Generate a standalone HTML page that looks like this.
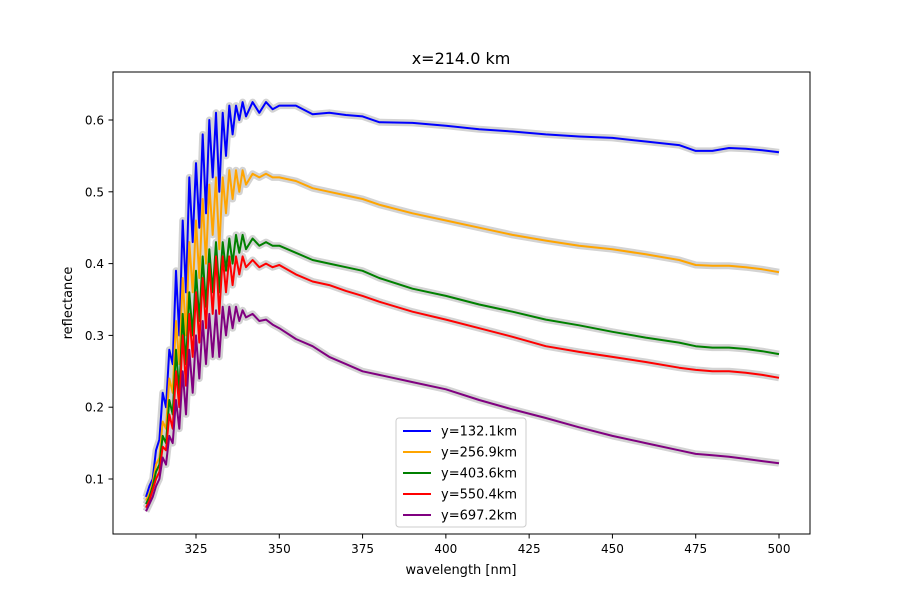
<!DOCTYPE html>
<html><head><meta charset="utf-8"><style>
body{margin:0;background:#fff}
svg text{font-family:"DejaVu Sans","Liberation Sans",sans-serif;fill:#000}
</style></head><body>
<svg id="chart" width="900" height="600">
<rect width="900" height="600" fill="#fff"/>
<text x="461" y="64" font-size="16" text-anchor="middle">x=214.0 km</text>
<g id="bands"></g><g id="lines"></g>
<rect x="113" y="72" width="697" height="462" fill="none" stroke="#000" stroke-width="1"/>
<g id="xticks"></g><g id="yticks"></g>
<text x="461" y="574" font-size="13" text-anchor="middle">wavelength [nm]</text>
<text x="72" y="303" font-size="13" text-anchor="middle" transform="rotate(-90 72 303)">reflectance</text>
<g id="legend"></g>
</svg>
<script>
const wavelengths=[310,311,312,313,314,315,316,317,318,319,320,321,322,323,324,325,326,327,328,329,330,331,332,333,334,335,336,337,338,339,340,342,344,346,348,350,355,360,365,370,375,380,390,400,410,420,430,440,450,460,470,475,480,485,490,495,500];
const blueVals=[0.075,0.09,0.10,0.14,0.155,0.22,0.20,0.28,0.26,0.39,0.30,0.46,0.36,0.52,0.43,0.54,0.45,0.58,0.47,0.60,0.52,0.61,0.50,0.61,0.55,0.62,0.58,0.62,0.60,0.625,0.605,0.625,0.61,0.625,0.615,0.62,0.62,0.608,0.61,0.607,0.605,0.597,0.596,0.592,0.587,0.584,0.58,0.577,0.575,0.57,0.565,0.557,0.557,0.561,0.56,0.558,0.555];
const orangeVals=[0.07,0.08,0.095,0.12,0.13,0.18,0.17,0.24,0.22,0.32,0.26,0.38,0.30,0.43,0.36,0.46,0.38,0.49,0.40,0.51,0.44,0.52,0.42,0.52,0.47,0.53,0.49,0.53,0.50,0.53,0.51,0.525,0.52,0.525,0.52,0.52,0.515,0.505,0.50,0.495,0.49,0.482,0.47,0.46,0.45,0.44,0.432,0.425,0.42,0.413,0.405,0.398,0.397,0.397,0.395,0.392,0.388];
const greenVals=[0.065,0.075,0.09,0.11,0.12,0.16,0.15,0.21,0.19,0.28,0.22,0.33,0.26,0.36,0.30,0.39,0.32,0.41,0.34,0.42,0.36,0.43,0.36,0.43,0.39,0.435,0.40,0.44,0.415,0.44,0.42,0.435,0.425,0.43,0.425,0.425,0.415,0.405,0.40,0.395,0.39,0.38,0.365,0.355,0.343,0.333,0.322,0.314,0.305,0.297,0.29,0.285,0.283,0.283,0.281,0.278,0.274];
const redVals=[0.06,0.07,0.085,0.10,0.11,0.145,0.14,0.19,0.17,0.25,0.20,0.30,0.23,0.33,0.27,0.36,0.29,0.38,0.31,0.40,0.33,0.41,0.33,0.41,0.36,0.41,0.37,0.41,0.385,0.41,0.395,0.405,0.395,0.40,0.395,0.398,0.385,0.375,0.37,0.362,0.355,0.347,0.333,0.322,0.31,0.298,0.285,0.277,0.27,0.263,0.255,0.252,0.25,0.25,0.248,0.245,0.241];
const purpleVals=[0.055,0.065,0.075,0.09,0.10,0.13,0.12,0.16,0.15,0.21,0.17,0.25,0.19,0.28,0.22,0.30,0.24,0.32,0.26,0.33,0.27,0.335,0.27,0.34,0.30,0.34,0.31,0.34,0.32,0.335,0.325,0.33,0.32,0.322,0.315,0.31,0.295,0.285,0.27,0.26,0.25,0.245,0.235,0.225,0.21,0.197,0.185,0.172,0.16,0.15,0.14,0.135,0.133,0.131,0.128,0.125,0.122];
const seriesLabels=["y=132.1km","y=256.9km","y=403.6km","y=550.4km","y=697.2km"];
const xTickVals=[325,350,375,400,425,450,475,500];
const yTickVals=[0.1,0.2,0.3,0.4,0.5,0.6];
const series=[blueVals,orangeVals,greenVals,redVals,purpleVals];
const colors=["blue","orange","green","red","purple"];
const NS="http://www.w3.org/2000/svg";
const xs=w=>196+(w-325)*(779-196)/175;
const ys=v=>479-(v-0.1)*(479-120)/0.5;
function mk(t,a){const e=document.createElementNS(NS,t);for(const k in a)e.setAttribute(k,a[k]);return e;}
const bands=document.getElementById('bands'),lines=document.getElementById('lines');
series.forEach((vals,i)=>{
  const d=vals.map((v,j)=>(j?'L':'M')+xs(wavelengths[j]).toFixed(1)+','+ys(v).toFixed(1)).join('');
  const b=mk('path',{d:d,fill:'none',stroke:'#d3d3d3','stroke-width':7,'stroke-linejoin':'round'});
  
  
  bands.appendChild(b);
  const l=mk('path',{d:d,fill:'none',stroke:colors[i],'stroke-width':2,'stroke-linejoin':'round'});
  
  
  lines.appendChild(l);
});
const xt=document.getElementById('xticks');
xTickVals.forEach(v=>{
  const x=xs(v);
  const t=mk('line',{x1:x,x2:x,y1:534,y2:538.5,stroke:'#000'});
  
  
  xt.appendChild(t);
  const tx=mk('text',{x:x,y:553,'font-size':12,'text-anchor':'middle'});
  
  
  tx.textContent=v;xt.appendChild(tx);
});
const yt=document.getElementById('yticks');
yTickVals.forEach(v=>{
  const y=ys(v);
  const t=mk('line',{x1:108.5,x2:113,y1:y,y2:y,stroke:'#000'});
  
  
  yt.appendChild(t);
  const tx=mk('text',{x:104,y:y+4.5,'font-size':12,'text-anchor':'end'});
  
  
  tx.textContent=v.toFixed(1);yt.appendChild(tx);
});
const lg=document.getElementById('legend');
const box=mk('rect',{x:396,y:418,width:130,height:109,rx:3,fill:'#fff','fill-opacity':0.8,stroke:'#ccc'});


lg.appendChild(box);
seriesLabels.forEach((s,i)=>{
  const y=431+i*21;
  const l=mk('line',{x1:403,x2:431,y1:y,y2:y,stroke:colors[i],'stroke-width':2});
  
  
  lg.appendChild(l);
  const t=mk('text',{x:441,y:y+4.5,'font-size':13});
  
  
  t.textContent=s;lg.appendChild(t);
});
</script>
</body></html>
